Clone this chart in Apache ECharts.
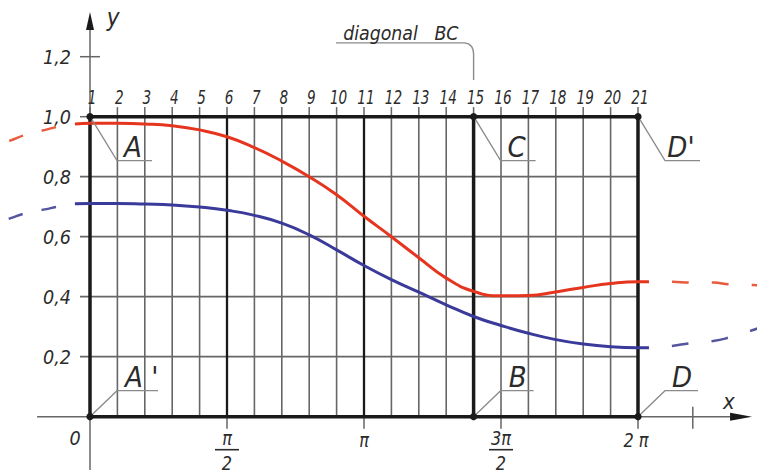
<!DOCTYPE html>
<html>
<head>
<meta charset="utf-8">
<script src="https://cdn.jsdelivr.net/npm/echarts@6/dist/echarts.min.js"></script>
<style>
  html, body { margin: 0; padding: 0; background: #fff; }
  #chart { width: 757px; height: 474px; }
</style>
</head>
<body>
<div id="chart"></div>
<script>
// Division points of the period 0..2π, numbered along the top edge
const pointNo = [1, 2, 3, 4, 5, 6, 7, 8, 9, 10, 11, 12, 13, 14, 15, 16, 17, 18, 19, 20, 21];
const heavyPoints = [1, 15, 21];
const mediumPoints = [6, 11];

// x-axis tick labels (fractions are [numerator, denominator])
const xTickPoints = [6, 11, 16, 21];
const xTickLabels = [['π', '2'], 'π', ['3π', '2'], '2 π'];
const extraTickPoint = 23;

// y-axis ticks
const yGridValues = [0.2, 0.4, 0.6, 0.8];
const yTickValues = [0.2, 0.4, 0.6, 0.8, 1.0, 1.2];
const yTickLabels = ['0,2', '0,4', '0,6', '0,8', '1,0', '1,2'];

// Curves on the working interval (short stubs just past both edges included)
const curveX = [0.45, 1, 2, 3, 4, 5, 6, 7, 8, 9, 10, 11, 12, 13, 14, 15, 16, 17, 18, 19, 20, 21, 21.4];
const redY = [0.976, 0.978, 0.978, 0.976, 0.970, 0.956, 0.933, 0.897, 0.852, 0.80, 0.74, 0.668, 0.60, 0.53, 0.462, 0.418, 0.403, 0.404, 0.416, 0.431, 0.444, 0.45, 0.45];
const blueY = [0.710, 0.711, 0.711, 0.709, 0.706, 0.699, 0.688, 0.671, 0.645, 0.606, 0.556, 0.504, 0.457, 0.415, 0.373, 0.334, 0.304, 0.278, 0.257, 0.242, 0.233, 0.23, 0.23];

// Dashed continuations outside the period
const leftX = [0.45, -0.2, -0.64, -1.37, -1.92, -2.3];
const redLeftY = [0.976, 0.966, 0.956, 0.939, 0.92, 0.908];
const blueLeftY = [0.710, 0.700, 0.691, 0.678, 0.661, 0.65];
const rightX = [21.4, 22.24, 22.9, 23.74, 24.36, 25.2, 25.4];
const redRightY = [0.45, 0.45, 0.447, 0.447, 0.441, 0.439, 0.438];
const blueRightY = [0.23, 0.236, 0.245, 0.252, 0.265, 0.289, 0.296];

// Marked corner points of the frame
const corners = [
  { name: 'A',   p: 1,  v: 1.0, top: true },
  { name: 'C',   p: 15, v: 1.0, top: true },
  { name: "D'",  p: 21, v: 1.0, top: true },
  { name: "A '", p: 1,  v: 0,   top: false },
  { name: 'B',   p: 15, v: 0,   top: false },
  { name: 'D',   p: 21, v: 0,   top: false }
];

const RED = '#e5351f', RED_D = '#ea5a3c';
const BLUE = '#3a3a9a', BLUE_D = '#55559f';
const INK = '#1a1a1a', THIN = '#666666', LEAD = '#8a8a8a', TXT = '#2b2b2b';
const FONT = "'DejaVu Sans', 'Liberation Sans', sans-serif";

const pairs = (xs, ys) => xs.map((x, i) => [x, ys[i]]);

const chart = echarts.init(document.getElementById('chart'), null, { renderer: 'svg' });

// The plotting area spans the whole canvas so that the continuations past
// the period and the axis arrows share one scale.
chart.setOption({
  animation: false,
  grid: { left: 0, right: 0, top: 0, bottom: 0 },
  xAxis: { type: 'value', min: -2.2847, max: 25.3431, show: false },
  yAxis: { type: 'value', min: -0.191, max: 1.389, show: false },
  series: [
    { type: 'line', data: pairs(curveX, redY), smooth: 0.5, showSymbol: false, silent: true,
      lineStyle: { color: RED, width: 3 }, z: 5 },
    { type: 'line', data: pairs(curveX, blueY), smooth: 0.5, showSymbol: false, silent: true,
      lineStyle: { color: BLUE, width: 3 }, z: 5 },
    { type: 'line', data: pairs(leftX, redLeftY), smooth: true, showSymbol: false, silent: true,
      lineStyle: { color: RED_D, width: 2.5, type: [15, 19], dashOffset: 15 }, z: 5 },
    { type: 'line', data: pairs(leftX, blueLeftY), smooth: true, showSymbol: false, silent: true,
      lineStyle: { color: BLUE_D, width: 2.5, type: [15, 19], dashOffset: 15 }, z: 5 },
    { type: 'line', data: pairs(rightX, redRightY), smooth: true, showSymbol: false, silent: true,
      lineStyle: { color: RED_D, width: 2.5, type: [17, 23], dashOffset: 17 }, z: 5 },
    { type: 'line', data: pairs(rightX, blueRightY), smooth: true, showSymbol: false, silent: true,
      lineStyle: { color: BLUE_D, width: 2.5, type: [17, 23], dashOffset: 17 }, z: 5 }
  ]
});

const P = (x, y) => chart.convertToPixel({ gridIndex: 0 }, [x, y]);
const g = [];

function seg(a, b, stroke, w, z) {
  g.push({ type: 'line', z: z || 1, silent: true,
    shape: { x1: a[0], y1: a[1], x2: b[0], y2: b[1] },
    style: { stroke: stroke, lineWidth: w } });
}
function poly(pts, stroke, w, z) {
  g.push({ type: 'polyline', z: z || 1, silent: true,
    shape: { points: pts }, style: { stroke: stroke, lineWidth: w, fill: null } });
}
function label(s, at, size, sx, align) {
  g.push({ type: 'text', z: 30, silent: true, x: at[0], y: at[1], scaleX: sx,
    style: { text: s, x: 0, y: 0, fill: TXT, fontSize: size, fontFamily: FONT, fontStyle: 'italic',
      align: align || 'center', verticalAlign: 'middle' } });
}

// Vertical grid lines with stubs above the top edge
pointNo.forEach(p => {
  const b = P(p, 0), t = P(p, 1.0), s = P(p, 1.032);
  seg(t, s, THIN, 1.5);
  if (heavyPoints.includes(p)) seg(b, t, INK, 3.5, 3);
  else if (mediumPoints.includes(p)) seg(b, t, INK, 2.3, 2);
  else seg(b, t, THIN, 1.6);
  label(String(p), [s[0] + 2, P(p, 1.067)[1]], 20, 0.68);
});

// Horizontal grid lines with short ticks on the y axis
yGridValues.forEach(v => {
  const a = P(1, v), b = P(21, v);
  seg([a[0] - 10, a[1]], b, THIN, 1.8);
});
{
  const a = P(1, 1.0), b = P(21, 1.0);
  seg([a[0] - 10, a[1]], a, THIN, 1.5);
  seg(a, b, INK, 3.5, 3);
  const c = P(1, 1.2);
  seg([c[0] - 10, c[1]], [c[0] + 10, c[1]], THIN, 1.5);
}
yTickValues.forEach((v, i) => {
  const a = P(1, v);
  label(yTickLabels[i], [a[0] - 19, a[1]], 20, 0.88, 'right');
});

// Axes with arrows
{
  const o = P(1, 0), e = P(21, 0);
  const xl = P(-0.93, 0), xb = P(24.36, 0), xt = P(25.16, 0);
  seg(xl, xb, THIN, 1.5);
  seg(o, e, INK, 3.5, 3);
  g.push({ type: 'polygon', z: 4, silent: true,
    shape: { points: [[xb[0], xb[1] - 4], [xt[0], xt[1]], [xb[0], xb[1] + 4]] }, style: { fill: INK } });
  const yb = P(1, -0.178), ya = P(1, 1.289), yt = P(1, 1.349);
  seg(yb, ya, THIN, 1.5);
  g.push({ type: 'polygon', z: 4, silent: true,
    shape: { points: [[ya[0] - 4, ya[1]], [yt[0], yt[1]], [ya[0] + 4, ya[1]]] }, style: { fill: INK } });
  label('x', [P(24.32, 0)[0], o[1] - 15], 22, 0.9);
  label('y', [P(1.84, 0)[0], yt[1] + 6], 24, 0.9);
  label('0', [o[0] - 15, o[1] + 21], 20, 0.88);
}

// x ticks and their labels
xTickPoints.forEach((p, i) => {
  const a = P(p, 0);
  seg(a, [a[0], a[1] + 12], THIN, 1.5);
  const lab = xTickLabels[i];
  if (Array.isArray(lab)) {
    label(lab[0], [a[0], a[1] + 22], 19, 0.85);
    seg([a[0] - 12, a[1] + 33], [a[0] + 12, a[1] + 33], TXT, 1.6, 30);
    label(lab[1], [a[0], a[1] + 47], 19, 0.85);
  } else {
    label(lab, [a[0] - (lab.length > 1 ? 2 : 0), a[1] + 24], 19, 0.85);
  }
});
{
  const a = P(extraTickPoint, 0);
  seg([a[0], a[1] - 10], [a[0], a[1] + 12], THIN, 1.5);
}

// Corner points with leader lines and letters
corners.forEach(c => {
  const a = P(c.p, c.v);
  let elbow, lineEnd, textAt;
  if (c.top) {
    elbow = [a[0] + 27, a[1] + 44];
    lineEnd = [elbow[0] + 35, elbow[1]];
    textAt = [elbow[0] + 16, elbow[1] - 14];
  } else {
    elbow = [a[0] + 27, a[1] - 26];
    lineEnd = [elbow[0] + (c.p === 1 ? 41 : 33), elbow[1]];
    textAt = [elbow[0] + 17, elbow[1] - 14];
  }
  if (c.name === "A '") textAt = [elbow[0] + 8, elbow[1] - 14];
  poly([[a[0] + 2, a[1] + (c.top ? 3 : -2)], elbow, lineEnd], LEAD, 1.3, 6);
  label(c.name, textAt, 29, 0.9, c.name === "A '" ? 'left' : 'center');
  g.push({ type: 'circle', z: 20, silent: true, shape: { cx: a[0], cy: a[1], r: 3.6 }, style: { fill: INK } });
});

// Callout for the diagonal BC line
{
  const t = P(15, 1.0);
  const y0 = P(15, 1.246)[1];
  const xs = P(9.98, 0)[0];
  const lx = t[0];
  poly([[xs, y0], [lx - 9, y0], [lx - 5, y0 + 1], [lx - 2, y0 + 3.5], [lx - 0.5, y0 + 7], [lx, y0 + 11], [lx, P(15, 1.122)[1]]], LEAD, 1.4, 6);
  label('diagonal\u00a0\u00a0\u00a0BC', [(xs + lx) / 2 - 4, y0 - 10], 20, 0.87);
}

chart.setOption({ graphic: { elements: g } });
</script>
</body>
</html>
